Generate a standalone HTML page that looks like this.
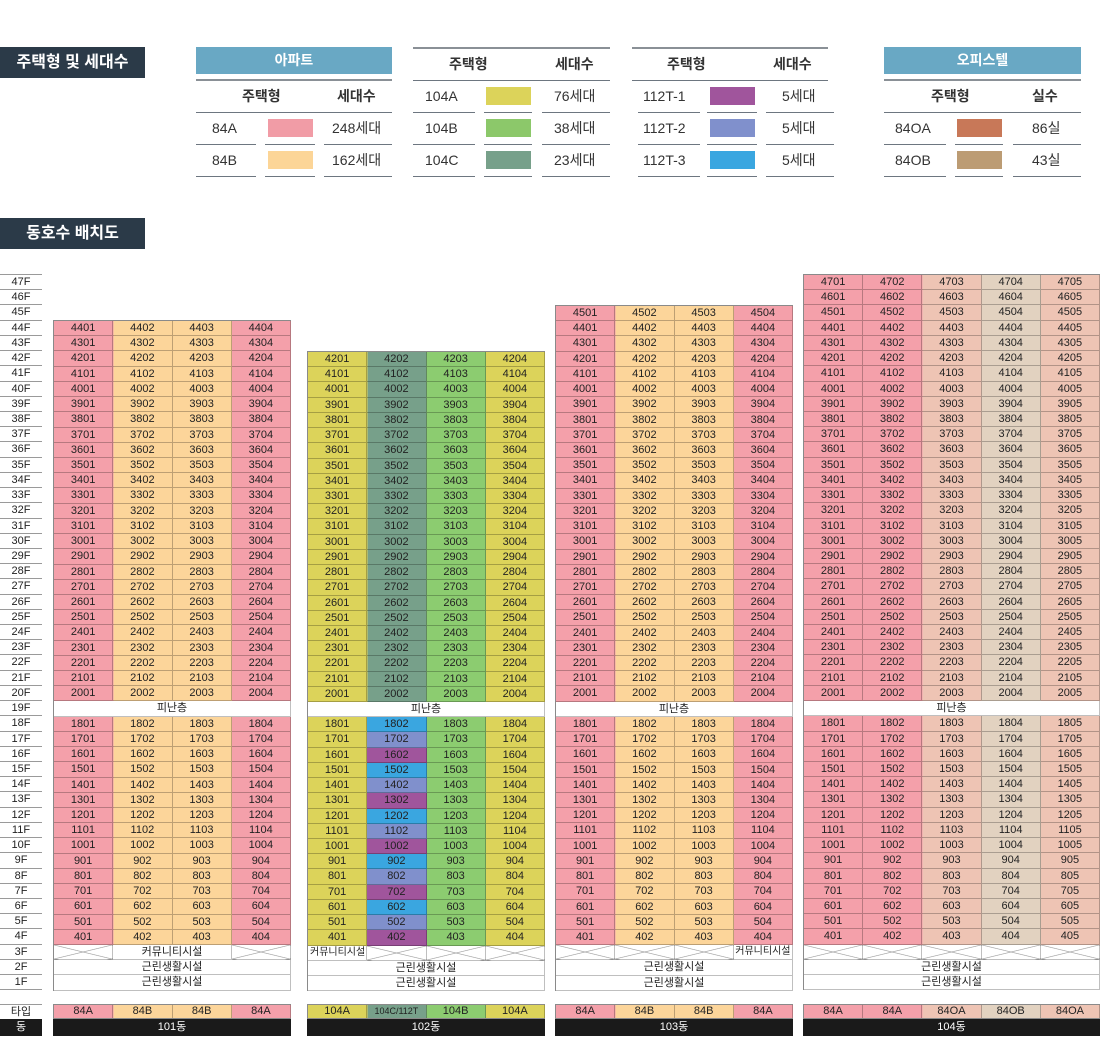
<!DOCTYPE html>
<html><head><meta charset="utf-8"><style>
*{margin:0;padding:0;box-sizing:border-box}
body{width:1100px;height:1057px;background:#fff;position:relative;overflow:hidden;font-family:"Liberation Sans","Noto Sans CJK KR",sans-serif;color:#222}
.ttl{position:absolute;left:0;width:145px;height:31px;background:#2b3a48;color:#fff;font-weight:bold;font-size:16px;line-height:31px;text-align:center}
.bar{position:absolute;height:27px;background:#69a8c4;color:#fff;font-weight:bold;font-size:14px;line-height:27px;text-align:center}
.hl{position:absolute;height:2px;background:#8a9096}
.sl{position:absolute;height:1px;background:#6d7680}
.tx{position:absolute;font-size:14px;color:#333;line-height:16px;white-space:nowrap}
.th{font-weight:bold}
.sw{position:absolute;width:45px;height:18px}
.fl{position:absolute;left:0;width:42px}
.fl div{height:15.22px;border-bottom:1px solid #9a9a9a;font-size:11px;line-height:15px;text-align:center;color:#222}
.bd{position:absolute;display:grid;grid-auto-rows:15.22px;border-left:1px solid #8a8a8a;border-top:1px solid #8a8a8a}
.bd b{font-weight:normal;font-size:11px;line-height:14px;text-align:center;border-right:1px solid rgba(0,0,0,.25);border-bottom:1px solid rgba(0,0,0,.25);color:#222;overflow:hidden;white-space:nowrap}
.bd b.w{background:#fff;grid-column:1/-1}
.bd b.x{background-color:#fff;background-image:linear-gradient(to top right,transparent calc(50% - .6px),#999 50%,transparent calc(50% + .6px)),linear-gradient(to bottom right,transparent calc(50% - .6px),#999 50%,transparent calc(50% + .6px))}
.bd b.c{background:#fff}
.bd b.s2{grid-column:span 2}
.bd b.u{background:#3aa6e0}.bd b.l{background:#8090cc}.bd b.v{background:#a0559c}
.b4{grid-template-columns:repeat(4,1fr);width:238px}
.b5{grid-template-columns:repeat(5,1fr);width:297px}
.g1{background:linear-gradient(to right,#f4a0aa 0 25%,#fcd59a 25% 75%,#f4a0aa 75%)}
.g2{background:linear-gradient(to right,#dcd35a 0 25%,#77a08a 25% 50%,#8ccc70 50% 75%,#dcd35a 75%)}
.g4{background:linear-gradient(to right,#f4a0aa 0 40%,#eec4b4 40% 60%,#e2d2c0 60% 80%,#eec4b4 80%)}
.tp{position:absolute;top:1004px;height:15px;display:grid;border:1px solid #8a8a8a;border-right:none}
.tp span{font-size:11px;line-height:13px;text-align:center;border-right:1px solid rgba(0,0,0,.25)}
.dg{position:absolute;top:1019px;height:17px;background:#1a1a1a;color:#fff;font-size:11px;line-height:17px;text-align:center}
</style></head><body>

<div class="ttl" style="top:47px">주택형 및 세대수</div>
<div class="ttl" style="top:218px">동호수 배치도</div>

<div class="bar" style="left:196px;top:47px;width:196px">아파트</div>
<div class="hl" style="left:196px;top:79px;width:196px"></div>
<div class="tx th" style="left:242px;top:88px">주택형</div>
<div class="tx th" style="left:337px;top:88px">세대수</div>
<div class="sl" style="left:196px;top:112px;width:196px"></div>
<div class="tx" style="left:212px;top:120px">84A</div><div class="sw" style="left:268px;top:119px;background:#f19ca6"></div><div class="tx" style="left:332px;top:120px">248세대</div>
<div class="sl" style="left:196px;top:144px;width:60px"></div><div class="sl" style="left:265px;top:144px;width:50px"></div><div class="sl" style="left:324px;top:144px;width:68px"></div>
<div class="tx" style="left:212px;top:152px">84B</div><div class="sw" style="left:268px;top:151px;background:#fcd597"></div><div class="tx" style="left:332px;top:152px">162세대</div>
<div class="sl" style="left:196px;top:176px;width:60px"></div><div class="sl" style="left:265px;top:176px;width:50px"></div><div class="sl" style="left:324px;top:176px;width:68px"></div>

<div class="hl" style="left:413px;top:47px;width:197px"></div>
<div class="tx th" style="left:449px;top:56px">주택형</div>
<div class="tx th" style="left:555px;top:56px">세대수</div>
<div class="sl" style="left:413px;top:80px;width:197px"></div>
<div class="tx" style="left:425px;top:88px">104A</div><div class="sw" style="left:486px;top:87px;background:#dcd35a"></div><div class="tx" style="left:554px;top:88px">76세대</div>
<div class="sl" style="left:413px;top:112px;width:62px"></div><div class="sl" style="left:484px;top:112px;width:48px"></div><div class="sl" style="left:542px;top:112px;width:68px"></div>
<div class="tx" style="left:425px;top:120px">104B</div><div class="sw" style="left:486px;top:119px;background:#8cc86a"></div><div class="tx" style="left:554px;top:120px">38세대</div>
<div class="sl" style="left:413px;top:144px;width:62px"></div><div class="sl" style="left:484px;top:144px;width:48px"></div><div class="sl" style="left:542px;top:144px;width:68px"></div>
<div class="tx" style="left:425px;top:152px">104C</div><div class="sw" style="left:486px;top:151px;background:#77a08a"></div><div class="tx" style="left:554px;top:152px">23세대</div>
<div class="sl" style="left:413px;top:176px;width:62px"></div><div class="sl" style="left:484px;top:176px;width:48px"></div><div class="sl" style="left:542px;top:176px;width:68px"></div>

<div class="hl" style="left:632px;top:47px;width:196px"></div>
<div class="tx th" style="left:667px;top:56px">주택형</div>
<div class="tx th" style="left:773px;top:56px">세대수</div>
<div class="sl" style="left:632px;top:80px;width:196px"></div>
<div class="tx" style="left:643px;top:88px">112T-1</div><div class="sw" style="left:710px;top:87px;background:#a0559c"></div><div class="tx" style="left:782px;top:88px">5세대</div>
<div class="sl" style="left:638px;top:112px;width:62px"></div><div class="sl" style="left:707px;top:112px;width:50px"></div><div class="sl" style="left:766px;top:112px;width:68px"></div>
<div class="tx" style="left:643px;top:120px">112T-2</div><div class="sw" style="left:710px;top:119px;background:#8090cc"></div><div class="tx" style="left:782px;top:120px">5세대</div>
<div class="sl" style="left:638px;top:144px;width:62px"></div><div class="sl" style="left:707px;top:144px;width:50px"></div><div class="sl" style="left:766px;top:144px;width:68px"></div>
<div class="tx" style="left:643px;top:152px">112T-3</div><div class="sw" style="left:710px;top:151px;background:#3aa6e0"></div><div class="tx" style="left:782px;top:152px">5세대</div>
<div class="sl" style="left:638px;top:176px;width:62px"></div><div class="sl" style="left:707px;top:176px;width:50px"></div><div class="sl" style="left:766px;top:176px;width:68px"></div>

<div class="bar" style="left:884px;top:47px;width:197px">오피스텔</div>
<div class="hl" style="left:884px;top:79px;width:197px"></div>
<div class="tx th" style="left:931px;top:88px">주택형</div>
<div class="tx th" style="left:1032px;top:88px">실수</div>
<div class="sl" style="left:884px;top:112px;width:197px"></div>
<div class="tx" style="left:895px;top:120px">84OA</div><div class="sw" style="left:957px;top:119px;background:#c87858"></div><div class="tx" style="left:1032px;top:120px">86실</div>
<div class="sl" style="left:884px;top:144px;width:62px"></div><div class="sl" style="left:955px;top:144px;width:48px"></div><div class="sl" style="left:1013px;top:144px;width:68px"></div>
<div class="tx" style="left:895px;top:152px">84OB</div><div class="sw" style="left:957px;top:151px;background:#bc9c74"></div><div class="tx" style="left:1032px;top:152px">43실</div>
<div class="sl" style="left:884px;top:176px;width:62px"></div><div class="sl" style="left:955px;top:176px;width:48px"></div><div class="sl" style="left:1013px;top:176px;width:68px"></div>

<div class="fl" style="top:274px;border-top:1px solid #9a9a9a">
<div>47F</div><div>46F</div><div>45F</div><div>44F</div><div>43F</div><div>42F</div><div>41F</div><div>40F</div><div>39F</div><div>38F</div><div>37F</div><div>36F</div><div>35F</div><div>34F</div><div>33F</div><div>32F</div><div>31F</div><div>30F</div><div>29F</div><div>28F</div><div>27F</div><div>26F</div><div>25F</div><div>24F</div><div>23F</div><div>22F</div><div>21F</div><div>20F</div><div>19F</div><div>18F</div><div>17F</div><div>16F</div><div>15F</div><div>14F</div><div>13F</div><div>12F</div><div>11F</div><div>10F</div><div>9F</div><div>8F</div><div>7F</div><div>6F</div><div>5F</div><div>4F</div><div>3F</div><div>2F</div><div>1F</div>
</div>
<div class="fl" style="top:1004px;height:15px;border-top:1px solid #9a9a9a;font-size:11px;line-height:14px;text-align:center">타입</div>
<div class="fl" style="top:1019px;height:17px;background:#1a1a1a;color:#fff;font-size:11px;line-height:17px;text-align:center">동</div>

<div class="bd b4 g1" style="left:53px;top:320px">
<b>4401</b><b>4402</b><b>4403</b><b>4404</b>
<b>4301</b><b>4302</b><b>4303</b><b>4304</b>
<b>4201</b><b>4202</b><b>4203</b><b>4204</b>
<b>4101</b><b>4102</b><b>4103</b><b>4104</b>
<b>4001</b><b>4002</b><b>4003</b><b>4004</b>
<b>3901</b><b>3902</b><b>3903</b><b>3904</b>
<b>3801</b><b>3802</b><b>3803</b><b>3804</b>
<b>3701</b><b>3702</b><b>3703</b><b>3704</b>
<b>3601</b><b>3602</b><b>3603</b><b>3604</b>
<b>3501</b><b>3502</b><b>3503</b><b>3504</b>
<b>3401</b><b>3402</b><b>3403</b><b>3404</b>
<b>3301</b><b>3302</b><b>3303</b><b>3304</b>
<b>3201</b><b>3202</b><b>3203</b><b>3204</b>
<b>3101</b><b>3102</b><b>3103</b><b>3104</b>
<b>3001</b><b>3002</b><b>3003</b><b>3004</b>
<b>2901</b><b>2902</b><b>2903</b><b>2904</b>
<b>2801</b><b>2802</b><b>2803</b><b>2804</b>
<b>2701</b><b>2702</b><b>2703</b><b>2704</b>
<b>2601</b><b>2602</b><b>2603</b><b>2604</b>
<b>2501</b><b>2502</b><b>2503</b><b>2504</b>
<b>2401</b><b>2402</b><b>2403</b><b>2404</b>
<b>2301</b><b>2302</b><b>2303</b><b>2304</b>
<b>2201</b><b>2202</b><b>2203</b><b>2204</b>
<b>2101</b><b>2102</b><b>2103</b><b>2104</b>
<b>2001</b><b>2002</b><b>2003</b><b>2004</b>
<b class="w">피난층</b>
<b>1801</b><b>1802</b><b>1803</b><b>1804</b>
<b>1701</b><b>1702</b><b>1703</b><b>1704</b>
<b>1601</b><b>1602</b><b>1603</b><b>1604</b>
<b>1501</b><b>1502</b><b>1503</b><b>1504</b>
<b>1401</b><b>1402</b><b>1403</b><b>1404</b>
<b>1301</b><b>1302</b><b>1303</b><b>1304</b>
<b>1201</b><b>1202</b><b>1203</b><b>1204</b>
<b>1101</b><b>1102</b><b>1103</b><b>1104</b>
<b>1001</b><b>1002</b><b>1003</b><b>1004</b>
<b>901</b><b>902</b><b>903</b><b>904</b>
<b>801</b><b>802</b><b>803</b><b>804</b>
<b>701</b><b>702</b><b>703</b><b>704</b>
<b>601</b><b>602</b><b>603</b><b>604</b>
<b>501</b><b>502</b><b>503</b><b>504</b>
<b>401</b><b>402</b><b>403</b><b>404</b>
<b class="x"></b><b class="c s2">커뮤니티시설</b><b class="x"></b>
<b class="w">근린생활시설</b>
<b class="w">근린생활시설</b>
</div>

<div class="bd b4 g2" style="left:307px;top:351px">
<b>4201</b><b>4202</b><b>4203</b><b>4204</b>
<b>4101</b><b>4102</b><b>4103</b><b>4104</b>
<b>4001</b><b>4002</b><b>4003</b><b>4004</b>
<b>3901</b><b>3902</b><b>3903</b><b>3904</b>
<b>3801</b><b>3802</b><b>3803</b><b>3804</b>
<b>3701</b><b>3702</b><b>3703</b><b>3704</b>
<b>3601</b><b>3602</b><b>3603</b><b>3604</b>
<b>3501</b><b>3502</b><b>3503</b><b>3504</b>
<b>3401</b><b>3402</b><b>3403</b><b>3404</b>
<b>3301</b><b>3302</b><b>3303</b><b>3304</b>
<b>3201</b><b>3202</b><b>3203</b><b>3204</b>
<b>3101</b><b>3102</b><b>3103</b><b>3104</b>
<b>3001</b><b>3002</b><b>3003</b><b>3004</b>
<b>2901</b><b>2902</b><b>2903</b><b>2904</b>
<b>2801</b><b>2802</b><b>2803</b><b>2804</b>
<b>2701</b><b>2702</b><b>2703</b><b>2704</b>
<b>2601</b><b>2602</b><b>2603</b><b>2604</b>
<b>2501</b><b>2502</b><b>2503</b><b>2504</b>
<b>2401</b><b>2402</b><b>2403</b><b>2404</b>
<b>2301</b><b>2302</b><b>2303</b><b>2304</b>
<b>2201</b><b>2202</b><b>2203</b><b>2204</b>
<b>2101</b><b>2102</b><b>2103</b><b>2104</b>
<b>2001</b><b>2002</b><b>2003</b><b>2004</b>
<b class="w">피난층</b>
<b>1801</b><b class="u">1802</b><b>1803</b><b>1804</b>
<b>1701</b><b class="l">1702</b><b>1703</b><b>1704</b>
<b>1601</b><b class="v">1602</b><b>1603</b><b>1604</b>
<b>1501</b><b class="u">1502</b><b>1503</b><b>1504</b>
<b>1401</b><b class="l">1402</b><b>1403</b><b>1404</b>
<b>1301</b><b class="v">1302</b><b>1303</b><b>1304</b>
<b>1201</b><b class="u">1202</b><b>1203</b><b>1204</b>
<b>1101</b><b class="l">1102</b><b>1103</b><b>1104</b>
<b>1001</b><b class="v">1002</b><b>1003</b><b>1004</b>
<b>901</b><b class="u">902</b><b>903</b><b>904</b>
<b>801</b><b class="l">802</b><b>803</b><b>804</b>
<b>701</b><b class="v">702</b><b>703</b><b>704</b>
<b>601</b><b class="u">602</b><b>603</b><b>604</b>
<b>501</b><b class="l">502</b><b>503</b><b>504</b>
<b>401</b><b class="v">402</b><b>403</b><b>404</b>
<b class="c" style="font-size:10px;text-align:left;padding-left:2px">커뮤니티시설</b><b class="x"></b><b class="x"></b><b class="x"></b>
<b class="w">근린생활시설</b>
<b class="w">근린생활시설</b>
</div>

<div class="bd b4 g1" style="left:555px;top:305px">
<b>4501</b><b>4502</b><b>4503</b><b>4504</b>
<b>4401</b><b>4402</b><b>4403</b><b>4404</b>
<b>4301</b><b>4302</b><b>4303</b><b>4304</b>
<b>4201</b><b>4202</b><b>4203</b><b>4204</b>
<b>4101</b><b>4102</b><b>4103</b><b>4104</b>
<b>4001</b><b>4002</b><b>4003</b><b>4004</b>
<b>3901</b><b>3902</b><b>3903</b><b>3904</b>
<b>3801</b><b>3802</b><b>3803</b><b>3804</b>
<b>3701</b><b>3702</b><b>3703</b><b>3704</b>
<b>3601</b><b>3602</b><b>3603</b><b>3604</b>
<b>3501</b><b>3502</b><b>3503</b><b>3504</b>
<b>3401</b><b>3402</b><b>3403</b><b>3404</b>
<b>3301</b><b>3302</b><b>3303</b><b>3304</b>
<b>3201</b><b>3202</b><b>3203</b><b>3204</b>
<b>3101</b><b>3102</b><b>3103</b><b>3104</b>
<b>3001</b><b>3002</b><b>3003</b><b>3004</b>
<b>2901</b><b>2902</b><b>2903</b><b>2904</b>
<b>2801</b><b>2802</b><b>2803</b><b>2804</b>
<b>2701</b><b>2702</b><b>2703</b><b>2704</b>
<b>2601</b><b>2602</b><b>2603</b><b>2604</b>
<b>2501</b><b>2502</b><b>2503</b><b>2504</b>
<b>2401</b><b>2402</b><b>2403</b><b>2404</b>
<b>2301</b><b>2302</b><b>2303</b><b>2304</b>
<b>2201</b><b>2202</b><b>2203</b><b>2204</b>
<b>2101</b><b>2102</b><b>2103</b><b>2104</b>
<b>2001</b><b>2002</b><b>2003</b><b>2004</b>
<b class="w">피난층</b>
<b>1801</b><b>1802</b><b>1803</b><b>1804</b>
<b>1701</b><b>1702</b><b>1703</b><b>1704</b>
<b>1601</b><b>1602</b><b>1603</b><b>1604</b>
<b>1501</b><b>1502</b><b>1503</b><b>1504</b>
<b>1401</b><b>1402</b><b>1403</b><b>1404</b>
<b>1301</b><b>1302</b><b>1303</b><b>1304</b>
<b>1201</b><b>1202</b><b>1203</b><b>1204</b>
<b>1101</b><b>1102</b><b>1103</b><b>1104</b>
<b>1001</b><b>1002</b><b>1003</b><b>1004</b>
<b>901</b><b>902</b><b>903</b><b>904</b>
<b>801</b><b>802</b><b>803</b><b>804</b>
<b>701</b><b>702</b><b>703</b><b>704</b>
<b>601</b><b>602</b><b>603</b><b>604</b>
<b>501</b><b>502</b><b>503</b><b>504</b>
<b>401</b><b>402</b><b>403</b><b>404</b>
<b class="x"></b><b class="x"></b><b class="x"></b><b class="c" style="font-size:10px">커뮤니티시설</b>
<b class="w">근린생활시설</b>
<b class="w">근린생활시설</b>
</div>

<div class="bd b5 g4" style="left:803px;top:274px">
<b>4701</b><b>4702</b><b>4703</b><b>4704</b><b>4705</b>
<b>4601</b><b>4602</b><b>4603</b><b>4604</b><b>4605</b>
<b>4501</b><b>4502</b><b>4503</b><b>4504</b><b>4505</b>
<b>4401</b><b>4402</b><b>4403</b><b>4404</b><b>4405</b>
<b>4301</b><b>4302</b><b>4303</b><b>4304</b><b>4305</b>
<b>4201</b><b>4202</b><b>4203</b><b>4204</b><b>4205</b>
<b>4101</b><b>4102</b><b>4103</b><b>4104</b><b>4105</b>
<b>4001</b><b>4002</b><b>4003</b><b>4004</b><b>4005</b>
<b>3901</b><b>3902</b><b>3903</b><b>3904</b><b>3905</b>
<b>3801</b><b>3802</b><b>3803</b><b>3804</b><b>3805</b>
<b>3701</b><b>3702</b><b>3703</b><b>3704</b><b>3705</b>
<b>3601</b><b>3602</b><b>3603</b><b>3604</b><b>3605</b>
<b>3501</b><b>3502</b><b>3503</b><b>3504</b><b>3505</b>
<b>3401</b><b>3402</b><b>3403</b><b>3404</b><b>3405</b>
<b>3301</b><b>3302</b><b>3303</b><b>3304</b><b>3305</b>
<b>3201</b><b>3202</b><b>3203</b><b>3204</b><b>3205</b>
<b>3101</b><b>3102</b><b>3103</b><b>3104</b><b>3105</b>
<b>3001</b><b>3002</b><b>3003</b><b>3004</b><b>3005</b>
<b>2901</b><b>2902</b><b>2903</b><b>2904</b><b>2905</b>
<b>2801</b><b>2802</b><b>2803</b><b>2804</b><b>2805</b>
<b>2701</b><b>2702</b><b>2703</b><b>2704</b><b>2705</b>
<b>2601</b><b>2602</b><b>2603</b><b>2604</b><b>2605</b>
<b>2501</b><b>2502</b><b>2503</b><b>2504</b><b>2505</b>
<b>2401</b><b>2402</b><b>2403</b><b>2404</b><b>2405</b>
<b>2301</b><b>2302</b><b>2303</b><b>2304</b><b>2305</b>
<b>2201</b><b>2202</b><b>2203</b><b>2204</b><b>2205</b>
<b>2101</b><b>2102</b><b>2103</b><b>2104</b><b>2105</b>
<b>2001</b><b>2002</b><b>2003</b><b>2004</b><b>2005</b>
<b class="w">피난층</b>
<b>1801</b><b>1802</b><b>1803</b><b>1804</b><b>1805</b>
<b>1701</b><b>1702</b><b>1703</b><b>1704</b><b>1705</b>
<b>1601</b><b>1602</b><b>1603</b><b>1604</b><b>1605</b>
<b>1501</b><b>1502</b><b>1503</b><b>1504</b><b>1505</b>
<b>1401</b><b>1402</b><b>1403</b><b>1404</b><b>1405</b>
<b>1301</b><b>1302</b><b>1303</b><b>1304</b><b>1305</b>
<b>1201</b><b>1202</b><b>1203</b><b>1204</b><b>1205</b>
<b>1101</b><b>1102</b><b>1103</b><b>1104</b><b>1105</b>
<b>1001</b><b>1002</b><b>1003</b><b>1004</b><b>1005</b>
<b>901</b><b>902</b><b>903</b><b>904</b><b>905</b>
<b>801</b><b>802</b><b>803</b><b>804</b><b>805</b>
<b>701</b><b>702</b><b>703</b><b>704</b><b>705</b>
<b>601</b><b>602</b><b>603</b><b>604</b><b>605</b>
<b>501</b><b>502</b><b>503</b><b>504</b><b>505</b>
<b>401</b><b>402</b><b>403</b><b>404</b><b>405</b>
<b class="x"></b><b class="x"></b><b class="x"></b><b class="x"></b><b class="x"></b>
<b class="w">근린생활시설</b>
<b class="w">근린생활시설</b>
</div>

<div class="tp g1" style="left:53px;width:238px;grid-template-columns:repeat(4,1fr)"><span>84A</span><span>84B</span><span>84B</span><span>84A</span></div>
<div class="tp g2" style="left:307px;width:238px;grid-template-columns:repeat(4,1fr)"><span>104A</span><span style="font-size:9px">104C/112T</span><span>104B</span><span>104A</span></div>
<div class="tp g1" style="left:555px;width:238px;grid-template-columns:repeat(4,1fr)"><span>84A</span><span>84B</span><span>84B</span><span>84A</span></div>
<div class="tp g4" style="left:803px;width:297px;grid-template-columns:repeat(5,1fr)"><span>84A</span><span>84A</span><span>84OA</span><span>84OB</span><span>84OA</span></div>

<div class="dg" style="left:53px;width:238px">101동</div>
<div class="dg" style="left:307px;width:238px">102동</div>
<div class="dg" style="left:555px;width:238px">103동</div>
<div class="dg" style="left:803px;width:297px">104동</div>
</body></html>
